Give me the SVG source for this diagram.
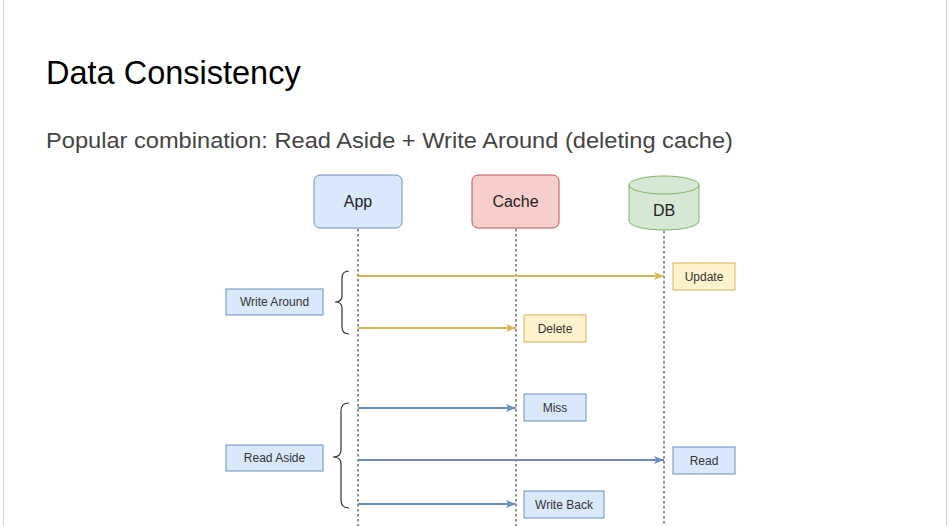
<svg xmlns="http://www.w3.org/2000/svg" width="949" height="526" viewBox="0 0 949 526">
<style>
text{font-family:"Liberation Sans",Arial,sans-serif}
.lbl{font-size:12px;fill:#333;text-anchor:middle}
.nt{font-size:16px;fill:#222;text-anchor:middle}
.life{stroke:#555;stroke-width:1.3;stroke-dasharray:2.5 2.5;fill:none}
.y{stroke:#d6b656;stroke-width:1.8;fill:none}
.b{stroke:#6c8ebf;stroke-width:1.8;fill:none}
.brace{stroke:#333;stroke-width:1.2;fill:none}
.ybox{fill:#fff2cc;stroke:#d6b656;stroke-width:1}
.bbox{fill:#dae8fc;stroke:#6c8ebf;stroke-width:1}
</style>
<defs>
<marker id="ay" markerUnits="userSpaceOnUse" markerWidth="11" markerHeight="9" refX="10" refY="4.5" orient="auto"><path d="M0,0.5 L10,4.5 L0,8.5 L2.5,4.5 z" fill="#d6b656"/></marker>
<marker id="ab" markerUnits="userSpaceOnUse" markerWidth="11" markerHeight="9" refX="10" refY="4.5" orient="auto"><path d="M0,0.5 L10,4.5 L0,8.5 L2.5,4.5 z" fill="#6c8ebf"/></marker>
</defs>
<rect x="0" y="0" width="949" height="526" fill="#fff"/>
<line x1="3.5" y1="0" x2="3.5" y2="526" stroke="#d0d0d0" stroke-width="1"/>
<line x1="946.5" y1="0" x2="946.5" y2="526" stroke="#d0d0d0" stroke-width="1"/>
<text x="46" y="84" font-size="32.5" fill="#000">Data Consistency</text>
<text x="46" y="148" font-size="22.5" fill="#444" textLength="687" lengthAdjust="spacingAndGlyphs">Popular combination: Read Aside + Write Around (deleting cache)</text>

<g id="lifelines">
<line class="life" x1="358" y1="229" x2="358" y2="526"/>
<line class="life" x1="516" y1="229" x2="516" y2="526"/>
<line class="life" x1="664" y1="231" x2="664" y2="526"/>
</g>

<g id="app"><rect x="314" y="175" width="88" height="53" rx="6" fill="#dae8fc" stroke="#6c8ebf" stroke-width="1"/><text class="nt" x="358" y="207">App</text></g>
<g id="cache"><rect x="472" y="175" width="87" height="53" rx="6" fill="#f8cecc" stroke="#b85450" stroke-width="1"/><text class="nt" x="515.5" y="207">Cache</text></g>
<g id="db"><path d="M629,185 A35,9 0 0 1 699,185 L699,221 A35,9 0 0 1 629,221 Z" fill="#d5e8d4" stroke="#82b366" stroke-width="1"/><path d="M629,185 A35,9 0 0 0 699,185" fill="none" stroke="#82b366" stroke-width="1"/><text class="nt" x="664" y="216">DB</text></g>

<g id="connectors">
<line class="y" x1="358" y1="276" x2="664" y2="276" marker-end="url(#ay)"/>
<line class="y" x1="358" y1="328" x2="516" y2="328" marker-end="url(#ay)"/>
<line class="b" x1="358" y1="408" x2="516" y2="408" marker-end="url(#ab)"/>
<line class="b" x1="358" y1="460" x2="664" y2="460" marker-end="url(#ab)"/>
<line class="b" x1="358" y1="504" x2="516" y2="504" marker-end="url(#ab)"/>
</g>

<g id="write-around-brace"><path class="brace" d="M349,271 Q342,271 342,278 L342,296 Q342,302 335,302 Q342,302 342,308 L342,327 Q342,334 349,334"/></g>
<g id="read-aside-brace"><path class="brace" d="M349,403 Q341,403 341,411 L341,450 Q341,457 333,457 Q341,457 341,464 L341,500 Q341,508 349,508"/></g>

<g id="write-around"><rect class="bbox" x="226" y="289" width="97" height="26"/><text class="lbl" x="274.5" y="306">Write Around</text></g>
<g id="read-aside"><rect class="bbox" x="226" y="445" width="97" height="26"/><text class="lbl" x="274.5" y="462">Read Aside</text></g>
<g id="update"><rect class="ybox" x="673" y="263" width="62" height="27"/><text class="lbl" x="704" y="281">Update</text></g>
<g id="delete"><rect class="ybox" x="524" y="315" width="62" height="27"/><text class="lbl" x="555" y="333">Delete</text></g>
<g id="miss"><rect class="bbox" x="524" y="394" width="62" height="27"/><text class="lbl" x="555" y="412">Miss</text></g>
<g id="read"><rect class="bbox" x="673" y="447" width="62" height="27"/><text class="lbl" x="704" y="465">Read</text></g>
<g id="write-back"><rect class="bbox" x="524" y="491" width="80" height="27"/><text class="lbl" x="564" y="509">Write Back</text></g>
</svg>
